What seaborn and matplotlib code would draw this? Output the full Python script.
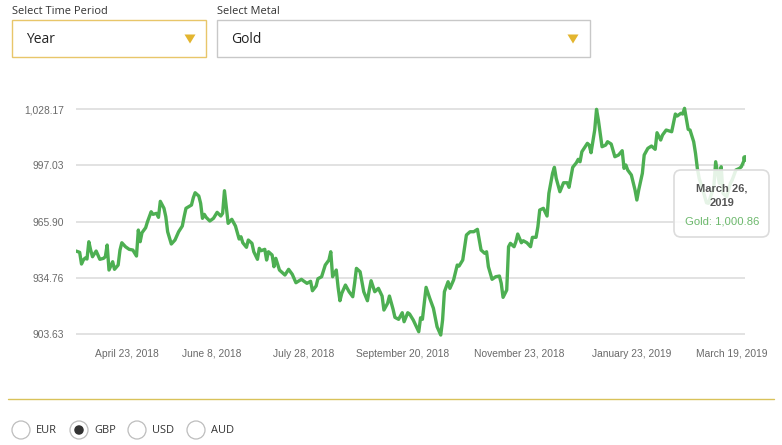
import numpy as np
import pandas as pd
import matplotlib
matplotlib.use("Agg")
import matplotlib.pyplot as plt
import seaborn as sns
from matplotlib.patches import FancyBboxPatch, Polygon, Ellipse

# ---------------- data ----------------
metal = "Gold"
start_date = "2018-03-26"
day_offsets = [
    0, 2, 3, 4, 5, 6, 7, 8, 9, 11,
    13, 15, 16, 17, 18, 20, 21, 23, 24, 25,
    27, 29, 31, 33, 34, 35, 36, 38, 39, 41,
    42, 44, 45, 46, 48, 49, 50, 52, 54, 56,
    58, 59, 60, 63, 64, 65, 67, 68, 69, 70,
    71, 73, 75, 77, 79, 80, 81, 83, 85, 87,
    89, 90, 91, 93, 94, 96, 97, 99, 100, 101,
    103, 104, 105, 107, 108, 109, 111, 113, 114, 116,
    118, 120, 123, 124, 126, 128, 129, 131, 132, 134,
    136, 138, 139, 140, 142, 143, 144, 145, 147, 149,
    151, 152, 153, 155, 157, 159, 160, 161, 163, 165,
    167, 168, 170, 171, 173, 174, 176, 178, 179, 181,
    182, 184, 187, 188, 189, 191, 193, 195, 197, 199,
    200, 201, 203, 204, 206, 208, 209, 211, 213, 215,
    217, 219, 221, 223, 224, 225, 227, 229, 231, 232,
    233, 235, 236, 237, 239, 240, 241, 243, 244, 246,
    248, 249, 251, 252, 253, 255, 257, 258, 260, 261,
    262, 264, 266, 268, 269, 271, 273, 274, 275, 276,
    279, 280, 281, 283, 284, 285, 287, 289, 290, 292,
    294, 296, 298, 299, 300, 301, 303, 305, 306, 307,
    309, 310, 312, 314, 316, 317, 319, 320, 322, 325,
    327, 328, 330, 331, 332, 334, 335, 337, 338, 339,
    340, 342, 344, 345, 348, 349, 351, 352, 353, 355,
    357, 358, 360, 362, 363, 365,
]
prices = [
    949.57, 948.85, 942.38, 944.59, 945.70, 945.14, 954.72, 950.12, 946.42, 949.57,
    944.98, 945.53, 946.42, 952.89, 939.05, 943.65, 939.44, 941.82, 950.12, 954.16,
    951.95, 950.51, 950.12, 946.80, 961.19, 954.72, 959.70, 962.47, 965.79, 971.32,
    969.88, 970.44, 968.22, 977.08, 973.21, 968.56, 960.25, 953.45, 955.66, 960.25,
    963.41, 968.56, 973.21, 975.03, 979.07, 981.84, 980.01, 975.97, 967.67, 969.88,
    968.22, 966.18, 967.67, 970.99, 968.94, 970.44, 982.95, 964.90, 967.12, 963.41,
    956.21, 957.49, 954.16, 951.62, 955.66, 953.83, 949.18, 944.98, 951.06, 949.74,
    950.51, 944.59, 949.18, 947.36, 940.88, 945.53, 939.05, 937.23, 936.29, 939.44,
    936.67, 932.03, 933.91, 933.13, 931.69, 932.80, 927.60, 930.20, 934.24, 935.35,
    941.82, 944.59, 949.18, 935.35, 939.05, 929.48, 922.06, 926.16, 930.75, 927.04,
    924.28, 931.69, 939.99, 938.11, 927.04, 922.06, 927.98, 933.13, 927.04, 928.92,
    924.66, 916.91, 920.62, 924.66, 917.30, 912.87, 911.77, 915.42, 910.44, 915.42,
    914.70, 911.38, 904.90, 912.65, 911.77, 929.48, 923.39, 917.85, 907.67, 903.08,
    911.38, 927.04, 932.58, 928.92, 933.52, 941.82, 941.27, 944.59, 958.43, 960.25,
    960.25, 961.58, 950.12, 948.30, 949.18, 940.88, 933.91, 935.35, 935.73, 931.69,
    923.94, 927.98, 951.95, 953.83, 951.95, 954.72, 958.98, 954.16, 955.27, 954.16,
    951.95, 957.15, 957.15, 963.02, 972.26, 973.21, 968.94, 981.51, 992.58, 995.90,
    989.81, 982.39, 987.37, 987.37, 984.83, 995.90, 998.44, 1000.33, 999.00, 1004.53,
    1009.18, 1008.24, 1003.98, 1016.54, 1028.00, 1022.08, 1007.30, 1008.24, 1010.07, 1008.80,
    1001.77, 1002.71, 1005.09, 995.34, 997.17, 994.40, 991.64, 983.33, 977.80, 983.33,
    992.58, 1002.71, 1006.41, 1007.69, 1005.86, 1015.05, 1011.01, 1013.78, 1016.54, 1015.60,
    1025.40, 1024.29, 1025.79, 1025.40, 1028.56, 1016.93, 1016.54, 1010.07, 1003.65, 995.34,
    989.81, 983.33, 976.31, 975.97, 985.16, 999.00, 987.04, 996.23, 981.51, 979.63,
    987.04, 988.87, 994.40, 995.34, 996.23, 1000.86,
]
y_ticks = [903.63, 934.76, 965.90, 997.03, 1028.17]
x_tick_dates = ["2018-04-23", "2018-06-08", "2018-07-28", "2018-09-20",
                "2018-11-23", "2019-01-23", "2019-03-19"]
x_tick_labels = ["April 23, 2018", "June 8, 2018", "July 28, 2018",
                 "September 20, 2018", "November 23, 2018",
                 "January 23, 2019", "March 19, 2019"]
time_period = "Year"
currencies = ["EUR", "GBP", "USD", "AUD"]
selected_currency = "GBP"
tooltip_title = "March 26,\n2019"

# ---------------- style ----------------
sns.set_theme(style="white")
plt.rcParams["font.family"] = ["Liberation Sans", "DejaVu Sans"]
plt.rcParams["lines.solid_joinstyle"] = "round"
plt.rcParams["lines.solid_capstyle"] = "round"

GREEN = "#4DAF52"
GOLD = "#E3B52F"
W, H = 782, 445

df = pd.DataFrame({
    "date": pd.to_datetime(start_date) + pd.to_timedelta(day_offsets, unit="D"),
    "price": prices,
})

fig = plt.figure(figsize=(W / 100, H / 100), dpi=100)
fig.patch.set_facecolor("white")

# chart axes
ax = fig.add_axes([76 / W, 1 - 342.4 / H, (745 - 76) / W, (342.4 - 102.1) / H])
sns.lineplot(data=df, x="date", y="price", ax=ax, color=GREEN, linewidth=2.4,
             estimator=None, sort=False, zorder=3)
ax.set_xlim(df["date"].iloc[0], df["date"].iloc[-1])
ax.set_ylim(899.0, 1032.0)
ax.set_yticks(y_ticks)
ax.set_yticklabels([f"{v:,.2f}" for v in y_ticks])
ax.set_xticks(pd.to_datetime(x_tick_dates))
ax.set_xticklabels(x_tick_labels)
ax.yaxis.grid(True, color="#dddddd", linewidth=1.2)
ax.xaxis.grid(False)
for s in ax.spines.values():
    s.set_visible(False)
ax.tick_params(axis="y", length=0, pad=8.5, labelsize=7.4, labelcolor="#6a6a6a")
ax.tick_params(axis="x", length=0, pad=4.5, labelsize=7.4, labelcolor="#6a6a6a")

# hover point at last value
last = df.iloc[[-1]]
sns.scatterplot(data=last, x="date", y="price", ax=ax, color=GREEN, s=22,
                edgecolor=GREEN, zorder=6, legend=False)
ax.set_xlabel("")
ax.set_ylabel("")

# ---------------- UI overlay (pixel coords) ----------------
ui = fig.add_axes([0, 0, 1, 1])
ui.set_xlim(0, W)
ui.set_ylim(H, 0)
ui.axis("off")

ui_font = ["Open Sans", "DejaVu Sans"]
ui.text(12, 11.5, "Select Time Period", fontsize=7.9, color="#333333",
        va="center", ha="left", family=ui_font)
ui.text(217, 11.5, "Select Metal", fontsize=7.9, color="#333333",
        va="center", ha="left", family=ui_font)

ui.add_patch(FancyBboxPatch((12, 20), 194, 37, boxstyle="square,pad=0",
                            facecolor="white", edgecolor="#E8C66A", linewidth=1.0))
ui.add_patch(FancyBboxPatch((217, 20), 373, 37, boxstyle="square,pad=0",
                            facecolor="white", edgecolor="#c8c8c8", linewidth=1.0))
ui.text(26, 39.5, time_period, fontsize=10, color="#222222", va="center",
        ha="left", family=ui_font)
ui.text(231, 39.5, metal, fontsize=10, color="#222222", va="center",
        ha="left", family=ui_font)
for cx in (190, 573):
    ui.add_patch(Polygon([[cx - 5.5, 34.5], [cx + 5.5, 34.5], [cx, 43.5]],
                         closed=True, facecolor=GOLD, edgecolor="none"))

# tooltip
ui.add_patch(FancyBboxPatch((674, 170), 95, 67,
                            boxstyle="round,pad=0,rounding_size=7",
                            facecolor=(1, 1, 1, 0.86), edgecolor="#dcdcdc",
                            linewidth=1.2, zorder=5))
ui.text(722, 195.5, tooltip_title, fontsize=8.0, fontweight="bold",
        color="#555555", ha="center", va="center", linespacing=1.5, zorder=6)
ui.text(722, 222, f"{metal}: {prices[-1]:,.2f}", fontsize=8.1, color="#6cb86c",
        ha="center", va="center", zorder=6)

# separator line
ui.plot([8, 774], [399, 399], color="#D9C25A", linewidth=1.0)

# radio buttons
radio_x = [21, 79, 137, 196]
for cx, cur in zip(radio_x, currencies):
    ui.add_patch(Ellipse((cx, 430), 18, 18, facecolor="white",
                         edgecolor="#bdbdbd", linewidth=0.9))
    if cur == selected_currency:
        ui.add_patch(Ellipse((cx, 430), 9.5, 9.5, facecolor="#333333",
                             edgecolor="none"))
    ui.text(cx + 15, 430.5, cur, fontsize=7.9, color="#333333", va="center",
            ha="left", family=ui_font)

fig.savefig("out.png", dpi=100, facecolor="white")
